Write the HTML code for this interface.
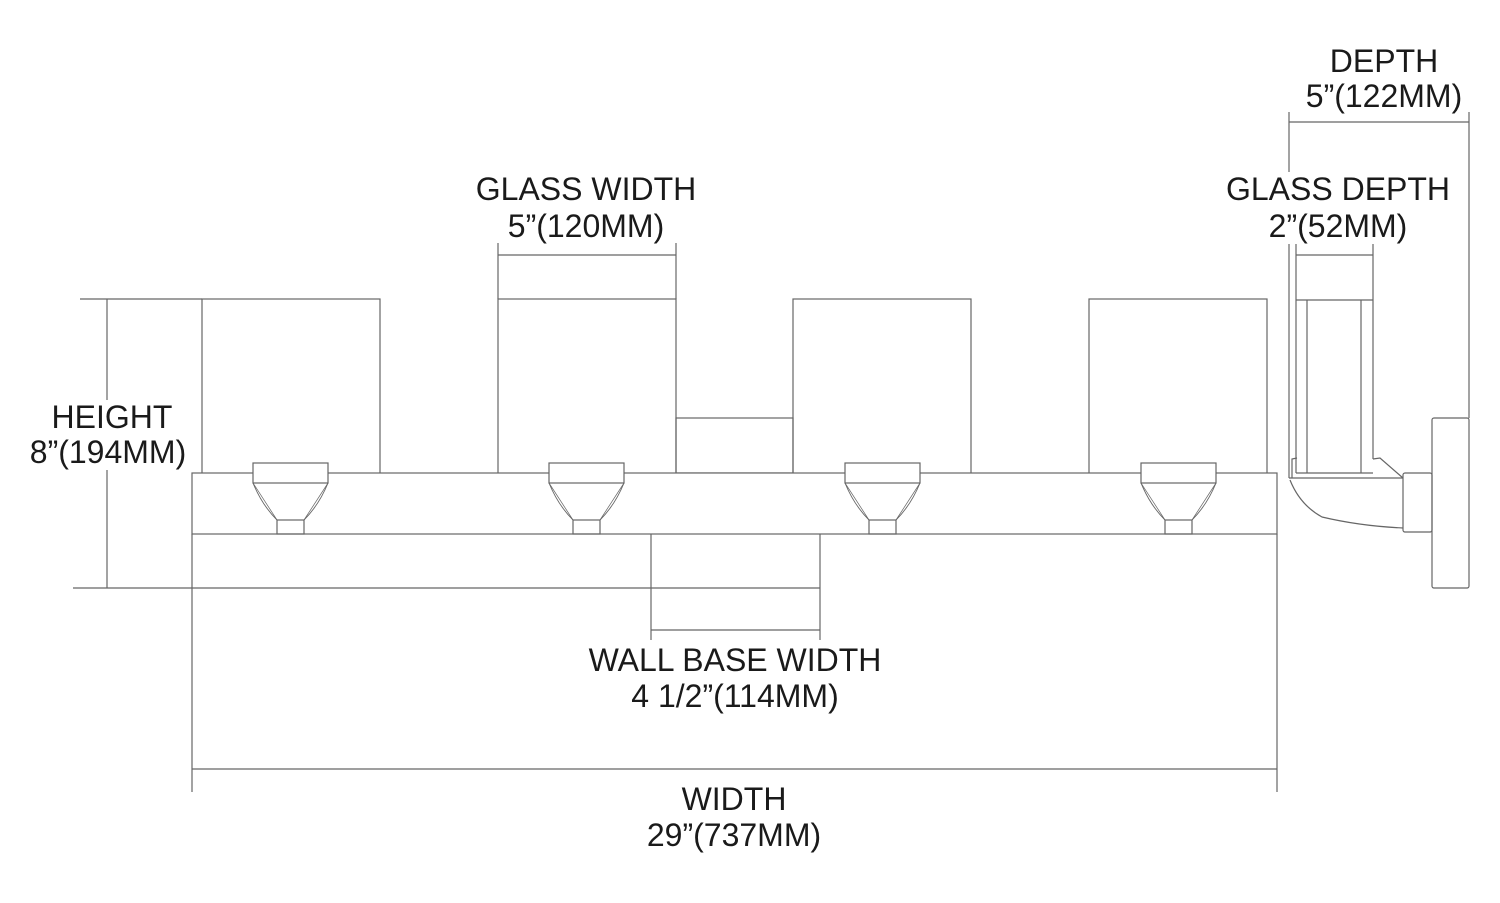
<!DOCTYPE html>
<html><head><meta charset="utf-8"><style>
html,body{margin:0;padding:0;background:#fff;}
svg{display:block}
text{font-family:"Liberation Sans",Arial,sans-serif;font-size:32px;fill:#1a1a1a;text-anchor:middle}
</style></head><body>
<svg width="1500" height="903" viewBox="0 0 1500 903" xmlns="http://www.w3.org/2000/svg">
<g fill="none" stroke="#666" stroke-width="1.2">
<rect x="202" y="299" width="178" height="179"/>
<rect x="498" y="299" width="178" height="179"/>
<rect x="793" y="299" width="178" height="179"/>
<rect x="1089" y="299" width="178" height="179"/>
<rect x="676" y="418" width="117" height="55"/>
<rect x="192" y="473" width="1085" height="61" fill="#fff"/>
<line x1="192" y1="534" x2="192" y2="792"/>
<line x1="1277" y1="534" x2="1277" y2="792"/>
<line x1="192" y1="769" x2="1277" y2="769"/>
<g id="s">
<rect x="253" y="463" width="75" height="20" fill="#fff"/>
<rect x="277" y="520" width="27" height="14"/>
<path d="M253 483 Q262 505 277 520 M328 483 Q319 505 304 520" stroke-width="0.9"/>
<path d="M253 483 L277 520 M328 483 L304 520" stroke-width="0.7"/>
</g>
<use href="#s" x="296"/>
<use href="#s" x="592"/>
<use href="#s" x="888"/>
<line x1="80" y1="299" x2="202" y2="299"/>
<line x1="73" y1="588" x2="820" y2="588"/>
<line x1="107" y1="299" x2="107" y2="588"/>
<line x1="651" y1="534" x2="651" y2="640"/>
<line x1="820" y1="534" x2="820" y2="640"/>
<line x1="651" y1="630" x2="820" y2="630"/>
<line x1="498" y1="243" x2="498" y2="299"/>
<line x1="676" y1="243" x2="676" y2="299"/>
<line x1="498" y1="255" x2="676" y2="255"/>
<line x1="1289" y1="112" x2="1289" y2="478"/>
<line x1="1469" y1="112" x2="1469" y2="418"/>
<line x1="1289" y1="122" x2="1469" y2="122"/>
<line x1="1296" y1="243" x2="1296" y2="473"/>
<line x1="1373" y1="243" x2="1373" y2="459"/>
<line x1="1296" y1="255" x2="1373" y2="255"/>
<line x1="1296" y1="300" x2="1373" y2="300"/>
<line x1="1307" y1="300" x2="1307" y2="473"/>
<line x1="1361" y1="300" x2="1361" y2="473"/>
<line x1="1296" y1="473" x2="1373" y2="473"/>
<path d="M1292 478 L1292 459 L1297 458"/>
<path d="M1373 459 L1380 458 L1403 478"/>
<line x1="1289" y1="478" x2="1403" y2="478"/>
<path d="M1290 480 Q1300 505 1322 517 Q1360 526 1403 528"/>
<rect x="1403" y="473" width="29" height="59" rx="2"/>
<rect x="1432" y="418" width="37" height="170" rx="2"/>
</g>
<g fill="#fff">
<rect x="30" y="400" width="160" height="70"/>
<rect x="1224" y="172" width="228" height="72"/>
</g>
<text x="586" y="200">GLASS WIDTH</text>
<text x="586" y="237">5”(120MM)</text>
<text x="112" y="428">HEIGHT</text>
<text x="108" y="463">8”(194MM)</text>
<text x="1384" y="72">DEPTH</text>
<text x="1384" y="107">5”(122MM)</text>
<text x="1338" y="200">GLASS DEPTH</text>
<text x="1338" y="237">2”(52MM)</text>
<text x="735" y="671">WALL BASE WIDTH</text>
<text x="735" y="707">4 1/2”(114MM)</text>
<text x="734" y="810">WIDTH</text>
<text x="734" y="846">29”(737MM)</text>
</svg>
</body></html>
